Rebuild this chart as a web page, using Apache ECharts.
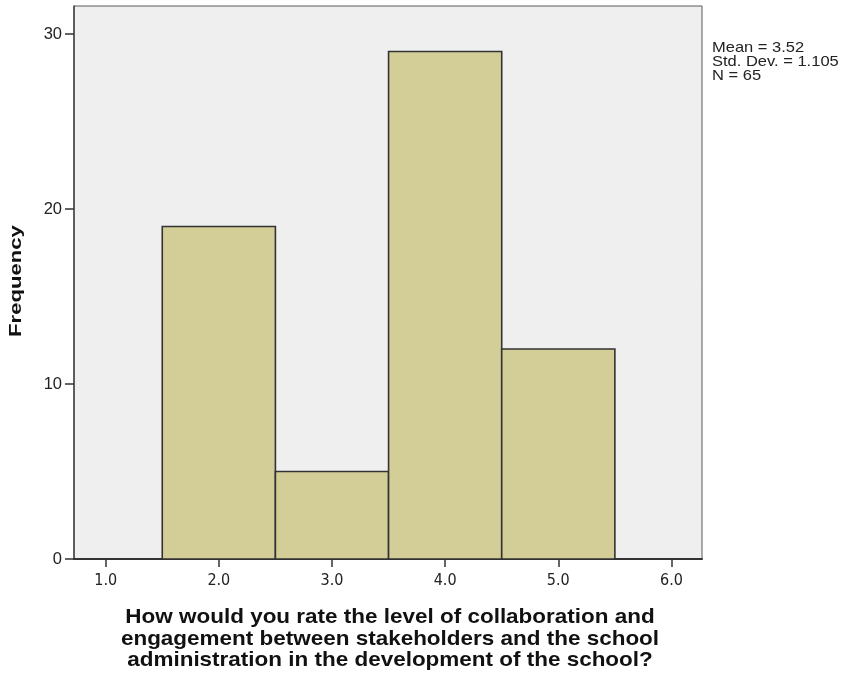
<!DOCTYPE html>
<html>
<head>
<meta charset="utf-8">
<script src="https://cdn.jsdelivr.net/npm/echarts@6/dist/echarts.min.js"></script>
<style>
html, body { margin: 0; padding: 0; background: #fff; }
#chart { width: 843px; height: 673px; }
</style>
</head>
<body>
<div id="chart"></div>
<script>
// bins of the histogram: [start, end] and frequency
var binStart = [1.5, 2.5, 3.5, 4.5];
var binEnd = [2.5, 3.5, 4.5, 5.5];
var frequency = [19, 5, 29, 12];
var xTicks = [1, 2, 3, 4, 5, 6];
var yTicks = [0, 10, 20, 30];
var statsLines = ['Mean = 3.52', 'Std. Dev. = 1.105', 'N = 65'];
var xTitle = 'How would you rate the level of collaboration and\nengagement between stakeholders and the school\nadministration in the development of the school?';
var yTitle = 'Frequency';

var bins = binStart.map(function (s, i) { return [s, binEnd[i], frequency[i]]; });

var sans = "'Liberation Sans', Arial, sans-serif";
var condensed = "'DejaVu Sans Condensed', 'Liberation Sans', sans-serif";

var chart = echarts.init(document.getElementById('chart'));
chart.setOption({
    backgroundColor: '#ffffff',
    animation: false,
    grid: {
        left: 74, top: 6, right: 141, bottom: 114,
        outerBoundsMode: 'none',
        containLabel: false,
        show: true,
        backgroundColor: '#efefef',
        borderColor: '#5a5a5a',
        borderWidth: 1
    },
    xAxis: {
        type: 'value',
        min: 0.72,
        max: 6.27,
        splitLine: { show: false },
        axisLine: { lineStyle: { color: '#333', width: 2 } },
        axisTick: {
            customValues: xTicks, length: 8, inside: false,
            lineStyle: { color: '#333', width: 1.5 }
        },
        axisLabel: {
            customValues: xTicks,
            formatter: function (v) { return v.toFixed(1); },
            fontFamily: condensed, fontSize: 16, color: '#222', margin: 14
        }
    },
    yAxis: {
        type: 'value',
        min: 0,
        max: 31.6,
        splitLine: { show: false },
        axisLine: { show: true, lineStyle: { color: '#444', width: 1.5 } },
        axisTick: {
            customValues: yTicks, length: 9,
            lineStyle: { color: '#333', width: 1.5 }
        },
        axisLabel: {
            customValues: yTicks,
            fontFamily: sans, fontSize: 16.5,
            color: '#222', margin: 12
        }
    },
    graphic: [{
        type: 'text',
        x: 712,
        y: 41,
        scaleX: 1.1,
        style: {
            text: statsLines.join('\n'),
            font: '15px ' + sans,
            lineHeight: 13.8,
            verticalAlign: 'top',
            fill: '#222'
        }
    }, {
        type: 'text',
        x: 390,
        y: 639,
        scaleX: 1.07,
        style: {
            text: xTitle,
            font: 'bold 21px ' + sans,
            lineHeight: 21.5,
            align: 'center',
            verticalAlign: 'middle',
            fill: '#111'
        }
    }, {
        type: 'text',
        x: 16,
        y: 281,
        rotation: Math.PI / 2,
        scaleX: 1.3,
        style: {
            text: yTitle,
            font: 'bold 17px ' + sans,
            align: 'center',
            verticalAlign: 'middle',
            fill: '#111'
        }
    }],
    series: [{
        type: 'custom',
        data: bins,
        renderItem: function (params, api) {
            var p0 = api.coord([api.value(0), api.value(2)]);
            var p1 = api.coord([api.value(1), 0]);
            return {
                type: 'rect',
                shape: { x: p0[0], y: p0[1], width: p1[0] - p0[0], height: p1[1] - p0[1] },
                style: { fill: '#d3ce97', stroke: '#333', lineWidth: 1.6 }
            };
        }
    }]
});
</script>
</body>
</html>
